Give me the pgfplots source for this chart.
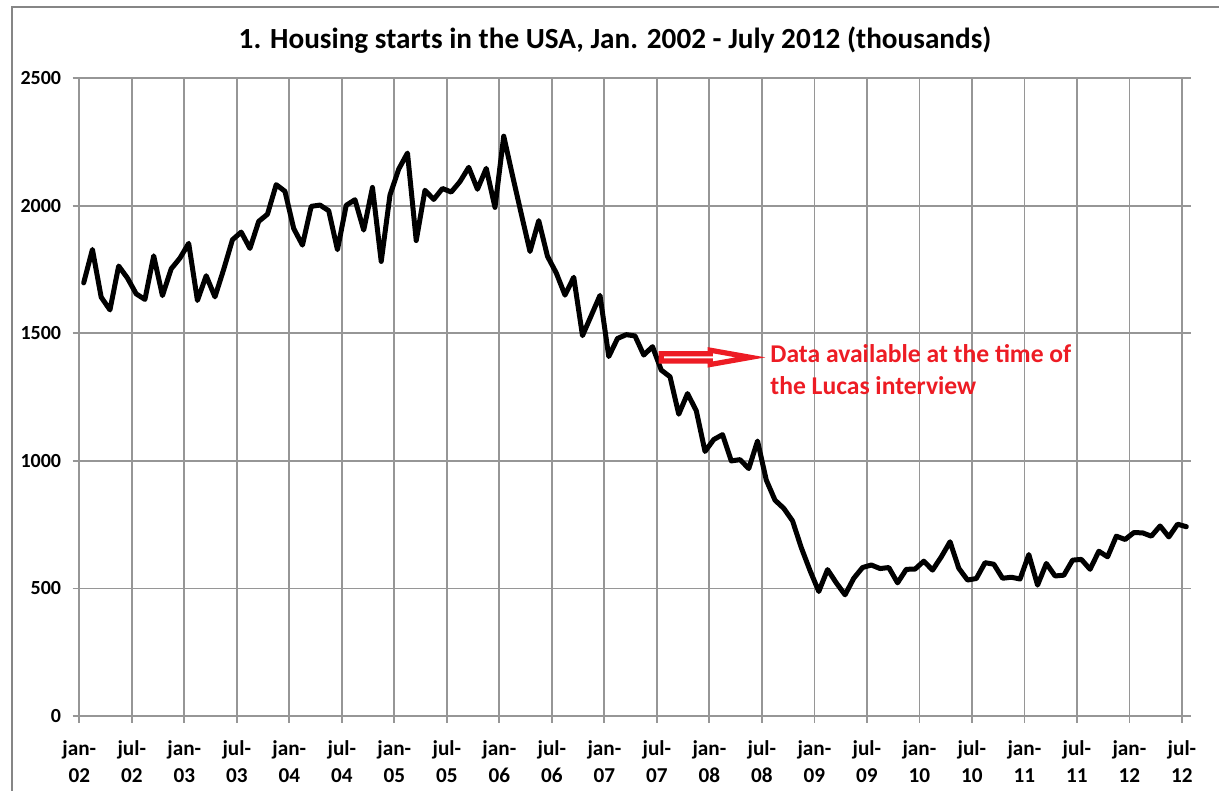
\documentclass[border=0pt]{standalone}
\usepackage{fontspec}
\setmainfont{Carlito}
\usepackage{pgfplots}
\pgfplotsset{compat=1.18}
\definecolor{gridgray}{RGB}{150,150,150}
\definecolor{borderg}{RGB}{134,134,134}
\definecolor{annred}{RGB}{237,28,36}
\pgfplotstableread{
m v
0 1698
1 1829
2 1642
3 1592
4 1764
5 1717
6 1655
7 1633
8 1804
9 1648
10 1753
11 1795
12 1853
13 1629
14 1726
15 1643
16 1751
17 1867
18 1897
19 1833
20 1939
21 1967
22 2083
23 2057
24 1911
25 1846
26 1998
27 2003
28 1981
29 1828
30 2002
31 2024
32 1905
33 2072
34 1782
35 2042
36 2144
37 2207
38 1864
39 2061
40 2025
41 2068
42 2054
43 2095
44 2151
45 2065
46 2147
47 1994
48 2273
49 2119
50 1969
51 1821
52 1942
53 1802
54 1737
55 1650
56 1720
57 1491
58 1570
59 1649
60 1409
61 1480
62 1495
63 1490
64 1415
65 1448
66 1356
67 1330
68 1183
69 1264
70 1197
71 1037
72 1084
73 1103
74 1000
75 1005
76 970
77 1078
78 925
79 846
80 814
81 765
82 660
83 570
84 488
85 574
86 522
87 475
88 540
89 582
90 592
91 578
92 582
93 522
94 575
95 576
96 607
97 572
98 624
99 683
100 579
101 533
102 539
103 601
104 595
105 540
106 544
107 537
108 633
109 513
110 598
111 549
112 552
113 611
114 614
115 575
116 646
117 624
118 705
119 692
120 719
121 718
122 705
123 745
124 702
125 752
126 742
}\housing
\begin{document}
\begin{tikzpicture}
\begin{axis}[
  at={(39.65pt,37.5pt)}, anchor=south west,
  scale only axis, width=555.7pt, height=318.85pt,
  xmin=-0.5, xmax=126.5, ymin=0, ymax=2500,
  axis lines*=left,
  axis line style={gridgray, line width=0.9pt},
  grid=major,
  major grid style={gridgray, line width=0.9pt},
  tick align=outside,
  major tick length=3.4pt,
  tick style={gridgray, line width=0.9pt},
  ytick={0,500,1000,1500,2000,2500},
  xtick={-0.5,5.5,...,125.5},
  xticklabels={{jan-\\02},{jul-\\02},{jan-\\03},{jul-\\03},{jan-\\04},{jul-\\04},{jan-\\05},{jul-\\05},{jan-\\06},{jul-\\06},{jan-\\07},{jul-\\07},{jan-\\08},{jul-\\08},{jan-\\09},{jul-\\09},{jan-\\10},{jul-\\10},{jan-\\11},{jul-\\11},{jan-\\12},{jul-\\12}},
  /pgf/number format/assume math mode=true,
  /pgf/number format/1000 sep={},
  yticklabel style={font=\bfseries\fontsize{10}{11}\selectfont, anchor=east, inner sep=0pt, xshift=-5.5pt},
  xticklabel style={font=\bfseries\fontsize{10.6}{13.8}\selectfont, align=center, anchor=north, inner sep=0pt, yshift=-8.5pt},
  scaled y ticks=false,
  clip=false,
]
\addplot[black, line width=2.5pt, line join=round, line cap=round] table[x=m, y=v] {\housing};
\draw[annred, line width=2.6pt, line join=miter, fill=white]
  (axis cs:66.0,1392) -- (axis cs:71.6,1392) -- (axis cs:71.6,1378)
  -- (axis cs:76.2,1406) -- (axis cs:71.6,1434) -- (axis cs:71.6,1420)
  -- (axis cs:66.0,1420) -- cycle;
\end{axis}
\draw[borderg, line width=0.75pt] (6pt,0pt) -- (6pt,392pt) -- (609.5pt,392pt);
\node[font=\bfseries\fontsize{14.6}{17}\selectfont, anchor=center] at (307.5pt,375.5pt) {1. Housing starts in the USA, Jan. 2002 - July 2012 (thousands)};
\node[font=\bfseries\fontsize{12.8}{16}\selectfont, text=annred, align=left, anchor=north west, inner sep=0pt] at (385pt,223.5pt) {Data available at the time of\\the Lucas interview};
\pgfresetboundingbox
\path[use as bounding box] (0pt,0pt) rectangle (609.5pt,395.5pt);
\end{tikzpicture}
\end{document}
